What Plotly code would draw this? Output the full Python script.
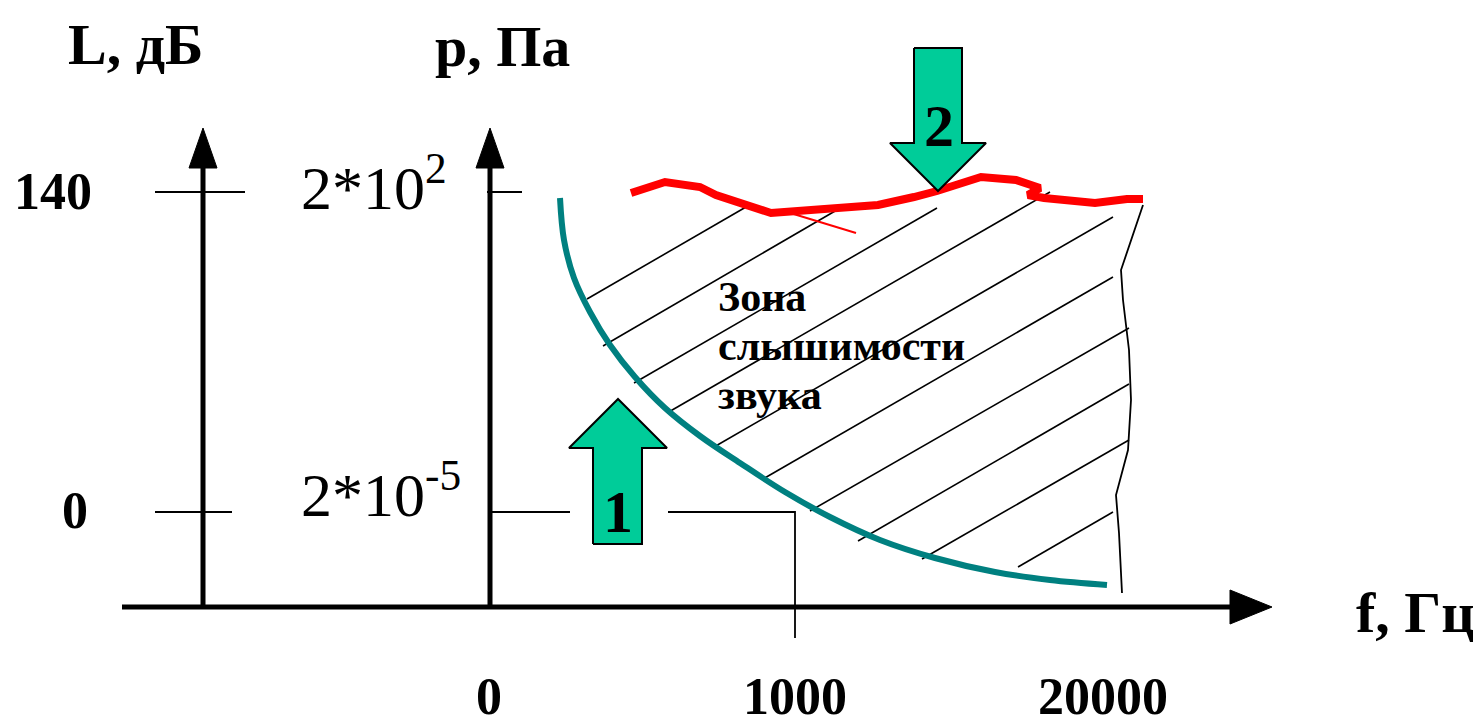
import plotly.graph_objects as go

# ---- canvas coordinates (diagram units, y grows downward) ----
W, H = 1481, 718
PAGE_OFFSET = 8  # default body margin of the html page

# axes
axis_x_line = ([122, 1232], [607, 607])
axis_L_line = ([203, 203], [607, 165])
axis_p_line = ([490, 490], [607, 165])
head_L = ([189, 203, 217, 189], [168, 128, 168, 168])
head_p = ([476, 490, 504, 476], [168, 128, 168, 168])
head_f = ([1230, 1272, 1230, 1230], [590, 607, 624, 590])

# tick / level lines
level_lines_x = [155, 245, None, 487, 522, None, 155, 232, None, 490, 570, None, 668, 795, 795]
level_lines_y = [192, 192, None, 192, 192, None, 512, 512, None, 512, 512, None, 512, 512, 638]

# hearing threshold (teal)
teal_x = [560, 564, 574, 590, 610, 635, 665, 700, 740, 785, 830, 880, 935, 995, 1050, 1107]
teal_y = [198, 240, 278, 312, 345, 377, 408, 436, 463, 492, 517, 540, 558, 572, 580, 585]

# pain threshold (red)
red_x = [631, 665, 700, 716, 771, 787, 830, 878, 914, 937, 981, 1016, 1040, 1028, 1044, 1095, 1127, 1143]
red_y = [193, 182, 187, 195, 213, 212, 209, 205, 197, 191, 177, 180, 188, 195, 198, 203, 199, 199]
red_thin_x = [787, 856]
red_thin_y = [212, 233]

# right boundary (thin black)
right_x = [1143, 1121, 1123, 1129, 1131, 1128, 1116, 1119, 1122]
right_y = [205, 270, 300, 350, 400, 450, 495, 533, 593]

# hatch segments (start x, start y, end x, end y)
hatch_x0 = [587, 603, 634, 667, 714, 763, 810, 858, 922, 1018]
hatch_y0 = [299, 346, 383, 413, 447, 479, 511, 541, 559, 567]
hatch_x1 = [746, 842, 937, 1050, 1113, 1113, 1129, 1129, 1129, 1113]
hatch_y1 = [207, 207, 208, 192, 217, 277, 328, 384, 440, 512]

# block arrows
arrow1_x = [593, 593, 569, 618, 667, 642, 642, 593]
arrow1_y = [544, 448, 448, 399, 448, 448, 544, 544]
arrow2_x = [914, 914, 890, 938, 986, 962, 962, 914]
arrow2_y = [48, 143, 143, 191, 143, 143, 48, 48]

# texts
axis_titles = ["L, дБ", "p, Па", "f, Гц"]
axis_titles_x = [135, 502, 1415]
axis_titles_y = [44, 46, 612]
L_ticks = ["140", "0"]
L_ticks_x = [53, 75]
L_ticks_y = [191, 510]
p_ticks = ["2*10<sup>2</sup>", "2*10<sup>-5</sup>"]
p_ticks_x = [374, 381]
p_ticks_y = [183, 490]
f_ticks = ["0", "1000", "20000"]
f_ticks_x = [489, 795, 1103]
f_ticks_y = [696, 696, 696]
zone_lines = ["Зона", "слышимости", "звука"]
zone_x = [716, 716, 716]
zone_y = [297, 346, 395]
arrow_labels = ["1", "2"]
arrow_labels_x = [618, 939]
arrow_labels_y = [512, 126]

FONT = "Liberation Serif, Times New Roman, serif"
GREEN = "#00CC99"
TEAL = "#008080"

fig = go.Figure()


def line(x, y, color="black", width=2, shape="linear"):
    fig.add_trace(go.Scatter(x=x, y=y, mode="lines", line=dict(color=color, width=width, shape=shape),
                             hoverinfo="skip", showlegend=False))


def poly(x, y, fill, lc, lw):
    fig.add_trace(go.Scatter(x=x, y=y, mode="lines", fill="toself", fillcolor=fill,
                             line=dict(color=lc, width=lw), hoverinfo="skip", showlegend=False))


# hatching
hx, hy = [], []
for a, b, c, d in zip(hatch_x0, hatch_y0, hatch_x1, hatch_y1):
    hx += [a, c, None]
    hy += [b, d, None]
line(hx, hy, width=1.6)

line(right_x, right_y, width=1.8)
line(level_lines_x, level_lines_y, width=1.8)

# axes
line(*axis_x_line, width=5)
line(*axis_L_line, width=5)
line(*axis_p_line, width=5)
for h in (head_L, head_p, head_f):
    poly(h[0], h[1], "black", "black", 1)

# curves
line(red_thin_x, red_thin_y, color="red", width=2)
line(teal_x, teal_y, color=TEAL, width=6, shape="spline")
line(red_x, red_y, color="red", width=8)

# block arrows
poly(arrow1_x, arrow1_y, GREEN, "black", 2)
poly(arrow2_x, arrow2_y, GREEN, "black", 2)


def texts(t, x, y, size, bold=True, xanchor="center"):
    for s, xx, yy in zip(t, x, y):
        fig.add_annotation(x=xx, y=yy, text=f"<b>{s}</b>" if bold else s, showarrow=False,
                           xanchor=xanchor, yanchor="middle",
                           font=dict(family=FONT, size=size, color="black"))


texts(axis_titles, axis_titles_x, axis_titles_y, 58)
texts(L_ticks, L_ticks_x, L_ticks_y, 52)
texts(p_ticks, p_ticks_x, p_ticks_y, 62, bold=False)
texts(f_ticks, f_ticks_x, f_ticks_y, 52)
texts(zone_lines, zone_x, zone_y, 42, xanchor="left")
texts(arrow_labels, arrow_labels_x, arrow_labels_y, 60)

fig.update_layout(
    width=W, height=H, margin=dict(l=0, r=0, t=0, b=0),
    paper_bgcolor="white", plot_bgcolor="white",
    xaxis=dict(range=[PAGE_OFFSET, W + PAGE_OFFSET], visible=False, fixedrange=True),
    yaxis=dict(range=[H + PAGE_OFFSET, PAGE_OFFSET], visible=False, fixedrange=True),
    showlegend=False,
)

fig.write_html("out.html")
